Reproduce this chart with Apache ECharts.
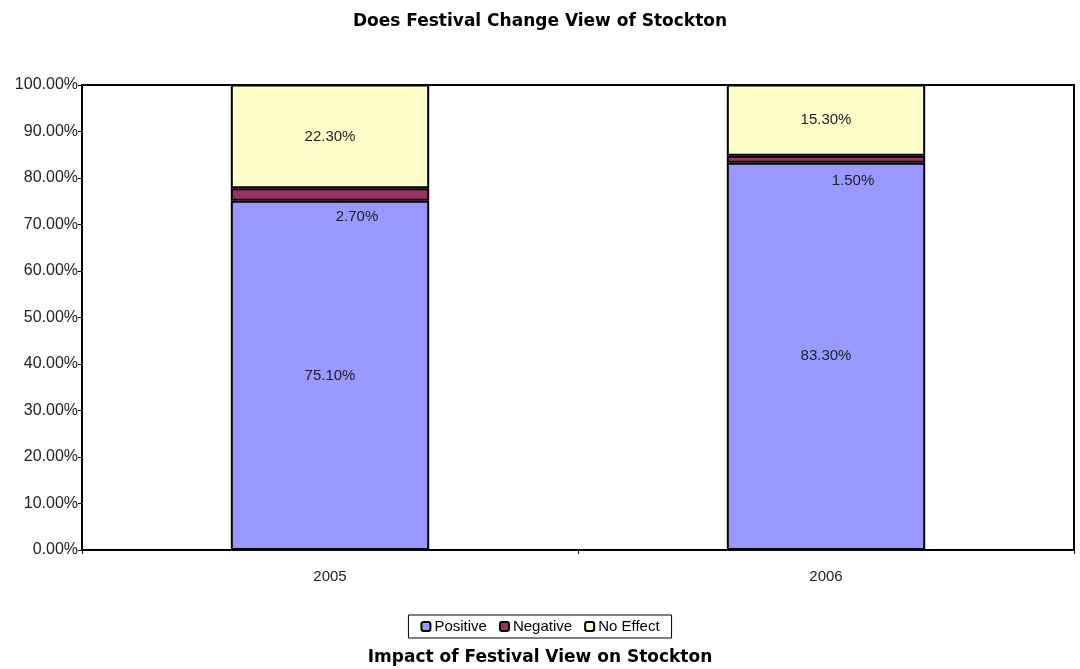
<!DOCTYPE html>
<html><head><meta charset="utf-8">
<script src="https://cdn.jsdelivr.net/npm/echarts@6/dist/echarts.min.js"></script>
<style>html,body{margin:0;padding:0;background:#fff;}#c{width:1080px;height:669px;}</style>
</head><body><div id="c"></div>
<script>
const categories = ['2005', '2006'];
const positive = [75.1, 83.3];
const negative = [2.7, 1.5];
const noEffect = [22.3, 15.3];
const yTicks = [0, 10, 20, 30, 40, 50, 60, 70, 80, 90, 100];

const chart = echarts.init(document.getElementById('c'));
const fmt = p => p.value.toFixed(2) + '%';
const lbl = {show: true, formatter: fmt, color: '#222', fontFamily: 'Liberation Sans', fontSize: 15};
chart.setOption({
  animation: false,
  title: [
    {text: 'Does Festival Change View of Stockton', left: 'center', top: 8,
     textStyle: {fontFamily: 'DejaVu Sans', fontSize: 17, fontWeight: 'bold', color: '#000'}},
    {text: 'Impact of Festival View on Stockton', left: 'center', top: 644,
     textStyle: {fontFamily: 'DejaVu Sans', fontSize: 17, fontWeight: 'bold', color: '#000'}}
  ],
  legend: {
    bottom: 31, left: 'center', itemWidth: 9, itemHeight: 9, itemGap: 12,
    borderColor: '#000', borderWidth: 1, padding: [4, 12],
    textStyle: {fontFamily: 'Liberation Sans', fontSize: 15, color: '#000', padding: [0,0,0,-1]},
    data: ['Positive', 'Negative', 'No Effect']
  },
  grid: {left: 82, right: 6, top: 85, bottom: 119, show: true, borderColor: '#000', borderWidth: 2},
  xAxis: {
    type: 'category', data: categories,
    axisLine: {lineStyle: {color: '#000', width: 2}},
    axisTick: {show: true, lineStyle: {color: '#000'}, length: 4},
    axisLabel: {color: '#222', fontFamily: 'Liberation Sans', fontSize: 15, margin: 19}
  },
  yAxis: {
    type: 'value', min: 0, max: 100, interval: 10,
    axisLine: {show: true, lineStyle: {color: '#000', width: 2}},
    axisTick: {show: true, lineStyle: {color: '#000'}, length: 4},
    splitLine: {show: false},
    axisLabel: {color: '#222', fontFamily: 'Liberation Sans', fontSize: 16, margin: 4,
      formatter: v => yTicks.includes(v) ? v.toFixed(2) + '%' : ''}
  },
  series: [
    {name: 'Positive', type: 'bar', stack: 's', data: positive, barCategoryGap: '60%',
     itemStyle: {color: '#9999FF', borderColor: '#000', borderWidth: 2},
     label: Object.assign({}, lbl, {position: 'inside'})},
    {name: 'Negative', type: 'bar', stack: 's', data: negative,
     itemStyle: {color: '#993366', borderColor: '#000', borderWidth: 2},
     label: Object.assign({}, lbl, {position: 'inside', offset: [27, 22]})},
    {name: 'No Effect', type: 'bar', stack: 's', data: noEffect,
     itemStyle: {color: '#FFFFCC', borderColor: '#000', borderWidth: 2},
     label: Object.assign({}, lbl, {position: 'inside'})}
  ]
});
</script></body></html>
